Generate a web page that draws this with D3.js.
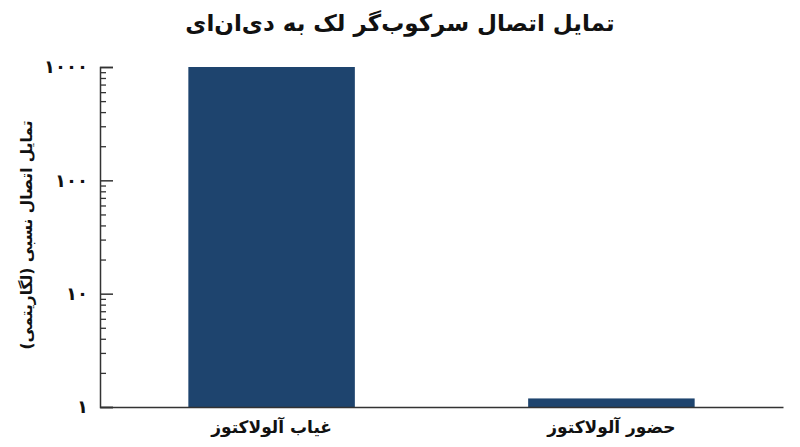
<!DOCTYPE html>
<html>
<head>
<meta charset="utf-8">
<script src="https://cdn.jsdelivr.net/npm/d3@7"></script>
<style>
  body { margin: 0; background: #fff; }
  svg { display: block; }
  text { font-family: "DejaVu Sans", sans-serif; font-weight: bold; fill: #111; }
</style>
</head>
<body>
<svg id="chart"></svg>
<script>
const width = 800, height = 447;

// data
const categories = ["غیاب آلولاکتوز", "حضور آلولاکتوز"];
const values = [1000, 1.19];
const tickValues = [1, 10, 100, 1000];
const tickLabels = ["۱", "۱۰", "۱۰۰", "۱۰۰۰"];

const margin = { top: 67, right: 17, bottom: 40, left: 100 };

const svg = d3.select("#chart")
    .attr("width", width)
    .attr("height", height);

const x = d3.scaleBand()
    .domain(categories)
    .range([margin.left, width - margin.right])
    .paddingInner(0.51)
    .paddingOuter(0.26);

const y = d3.scaleLog()
    .domain([1, 1000])
    .range([height - margin.bottom, margin.top]);

// bars
svg.append("g")
    .selectAll("rect")
    .data(values)
    .join("rect")
    .attr("x", (d, i) => x(categories[i]))
    .attr("width", x.bandwidth())
    .attr("y", d => y(d))
    .attr("height", d => y(1) - y(d))
    .attr("fill", "#1e446e");

// minor ticks (2..9 of every decade)
const minorTicks = y.ticks().filter(t => !tickValues.includes(t));
svg.append("g")
    .attr("transform", `translate(${margin.left},0)`)
    .call(d3.axisLeft(y).tickValues(minorTicks).tickSize(-6).tickFormat(""))
    .call(g => g.select(".domain").remove())
    .call(g => g.selectAll("line").attr("stroke", "#333").attr("stroke-width", 1.3));

// major ticks + labels
svg.append("g")
    .attr("transform", `translate(${margin.left},0)`)
    .call(d3.axisLeft(y)
        .tickValues(tickValues)
        .tickSize(-13)
        .tickPadding(12)
        .tickFormat((d, i) => tickLabels[i]))
    .call(g => g.select(".domain").attr("stroke", "#333").attr("stroke-width", 1.5))
    .call(g => g.selectAll("line").attr("stroke", "#333").attr("stroke-width", 1.5))
    .call(g => g.selectAll("text")
        .attr("font-size", 18)
        .attr("font-family", "DejaVu Sans")
        .attr("font-weight", "bold")
        .attr("fill", "#111"));

// x axis
svg.append("g")
    .attr("transform", `translate(0,${y(1)})`)
    .call(d3.axisBottom(x).tickSize(0).tickPadding(14))
    .call(g => g.select(".domain").attr("stroke", "#333").attr("stroke-width", 1.5))
    .call(g => g.selectAll("text")
        .attr("font-size", 17)
        .attr("font-family", "DejaVu Sans")
        .attr("font-weight", "bold")
        .attr("fill", "#111"));

// title
svg.append("text")
    .attr("x", width / 2)
    .attr("y", 31)
    .attr("text-anchor", "middle")
    .attr("font-size", 23)
    .text("تمایل اتصال سرکوب‌گر لک به دی‌ان‌ای");

// y label
svg.append("text")
    .attr("transform", `translate(32,${(margin.top + height - margin.bottom) / 2 - 2}) rotate(-90)`)
    .attr("text-anchor", "middle")
    .attr("font-size", 15.5)
    .text("تمایل اتصال نسبی (لگاریتمی)");
</script>
</body>
</html>
